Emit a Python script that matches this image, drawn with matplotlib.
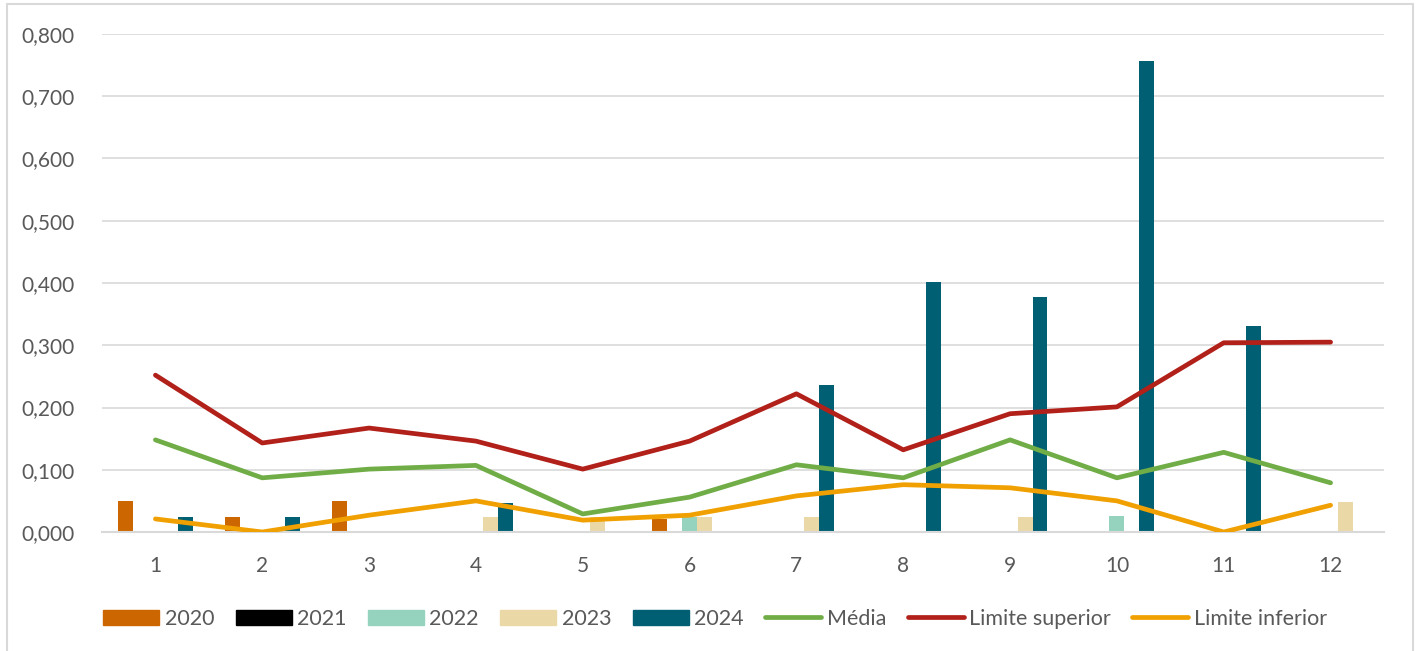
import numpy as np
import matplotlib
matplotlib.use("Agg")
import matplotlib.pyplot as plt
from matplotlib.patches import Rectangle
from matplotlib.lines import Line2D
from matplotlib.ticker import FuncFormatter, MultipleLocator

plt.rcParams['font.family'] = ['Lato', 'DejaVu Sans']

months = list(range(1, 13))
bar_series = ["2020", "2021", "2022", "2023", "2024"]
v2020 = [0.049, 0.024, 0.049, 0, 0, 0.021, 0, 0, 0, 0, 0, 0]
v2021 = [0, 0, 0, 0, 0, 0, 0, 0, 0, 0, 0, 0]
v2022 = [0, 0, 0, 0, 0, 0.024, 0, 0, 0, 0.026, 0, 0]
v2023 = [0, 0, 0, 0.024, 0.024, 0.024, 0.024, 0, 0.024, 0, 0, 0.048]
v2024 = [0.024, 0.024, 0, 0.047, 0, 0, 0.236, 0.401, 0.378, 0.756, 0.331, 0]
media = [0.148, 0.087, 0.101, 0.107, 0.029, 0.056, 0.108, 0.087, 0.148, 0.087, 0.128, 0.079]
lim_sup = [0.252, 0.143, 0.167, 0.146, 0.101, 0.146, 0.222, 0.132, 0.190, 0.201, 0.304, 0.305]
lim_inf = [0.021, 0.000, 0.027, 0.050, 0.019, 0.027, 0.058, 0.076, 0.071, 0.050, 0.000, 0.043]
line_names = ["Média", "Limite superior", "Limite inferior"]

bar_colors = ["#CC6600", "#000000", "#96D3BF", "#EAD8A7", "#005F73"]
line_colors = ["#70AD47", "#B2201A", "#F0A000"]

W, H = 1418, 651
fig = plt.figure(figsize=(W / 100, H / 100), dpi=100)
fig.patch.set_facecolor("white")

# outer frame
fig.add_artist(Rectangle((7 / W, -0.05), (1413 - 7) / W, (H - 4) / H + 0.05,
                         transform=fig.transFigure, fill=False,
                         edgecolor="#D9D9D9", linewidth=1.5))

ax = fig.add_axes([102 / W, (H - 532) / H, (1384 - 102) / W, (532 - 34) / H])
x = np.array(months, dtype=float)
bw = 0.14
series_vals = [v2020, v2021, v2022, v2023, v2024]
for i, (name, vals, c) in enumerate(zip(bar_series, series_vals, bar_colors)):
    ax.bar(x + (i - 2) * bw, vals, width=bw, color=c, label=name, zorder=2)

for name, vals, c in zip(line_names, [media, lim_sup, lim_inf], line_colors):
    ax.plot(x, vals, color=c, linewidth=3.4, label=name, zorder=3,
            solid_capstyle="round", solid_joinstyle="round")

ax.set_xlim(0.5, 12.5)
ax.set_ylim(0, 0.8)
ax.yaxis.set_major_locator(MultipleLocator(0.1))
ax.yaxis.set_major_formatter(FuncFormatter(lambda v, p: f"{v:.3f}".replace(".", ",")))
ax.set_xticks(x)
ax.set_xticklabels([str(m) for m in months])
ax.grid(axis="y", color="#D9D9D9", linewidth=1.2, zorder=0)
ax.set_axisbelow(True)
for s in ["top", "right", "left"]:
    ax.spines[s].set_visible(False)
ax.spines["bottom"].set_color("#D9D9D9")
ax.spines["bottom"].set_linewidth(1.5)
ax.tick_params(axis="both", length=0, colors="#595959", labelsize=15)
ax.tick_params(axis="y", pad=20)
ax.tick_params(axis="x", pad=17)

handles = [Rectangle((0, 0), 1, 1, color=c) for c in bar_colors] + \
          [Line2D([0], [0], color=c, linewidth=3.4, solid_capstyle="round") for c in line_colors]
labels = bar_series + line_names
leg = fig.legend(handles, labels, loc="center", bbox_to_anchor=(715 / W, (H - 619) / H),
                 ncol=8, frameon=False, fontsize=15.5, handlelength=2.6, handleheight=0.75,
                 handletextpad=0.25, columnspacing=1.0, labelcolor="#595959")

fig.savefig("out.png", dpi=100, facecolor="white")
